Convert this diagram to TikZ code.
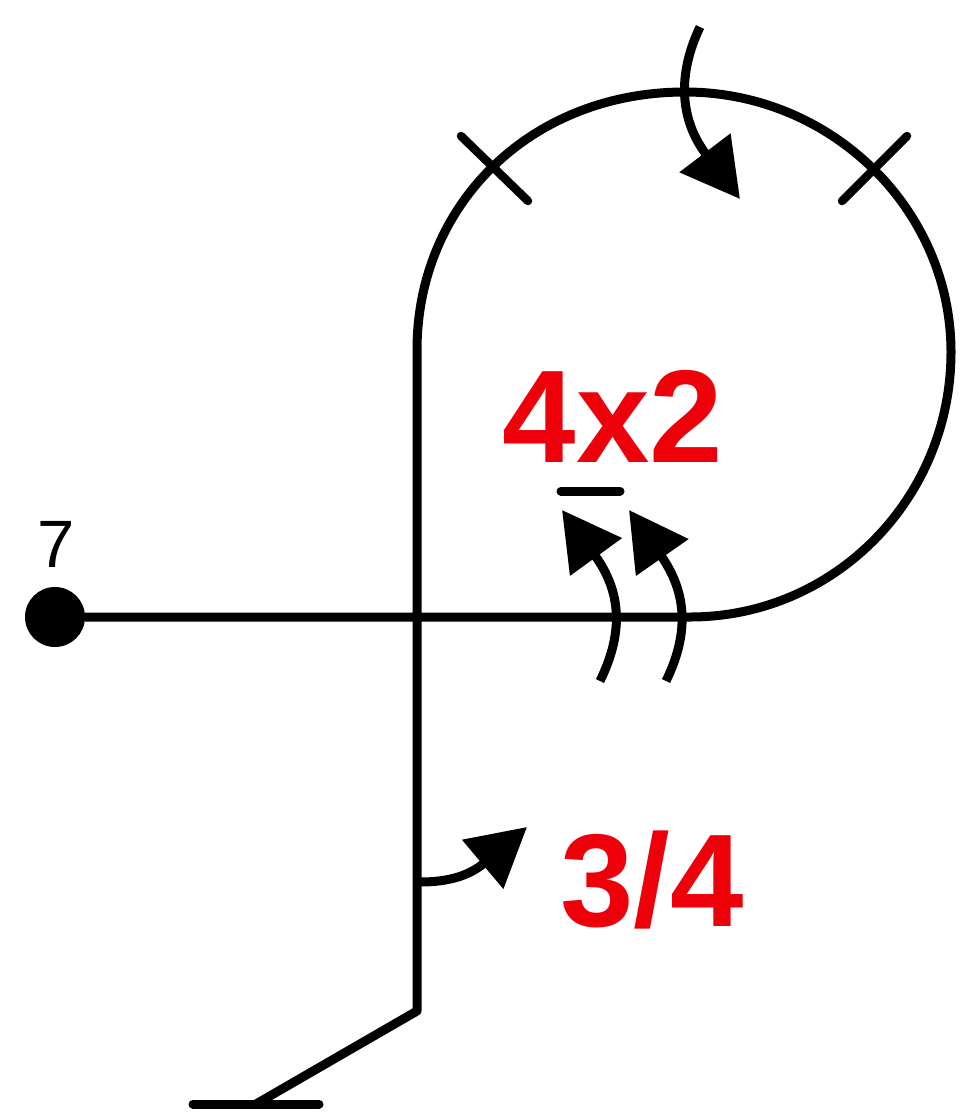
\documentclass[tikz,border=0pt]{standalone}
\usepackage{fontspec}
\setmainfont{Liberation Sans}
\usetikzlibrary{arrows.meta}
\definecolor{labelred}{RGB}{238,0,10}
\tikzset{
  x=1pt,y=-1pt,
  trace/.style={line width=9pt,black},
  tick/.style={line width=8.5pt,black,line cap=round},
  flow/.style={line width=9pt,black,-{Triangle[length=58pt,width=62pt]}},
  redlabel/.style={text=labelred,font=\bfseries\fontsize{132}{132}\selectfont,inner sep=0pt},
}
\begin{document}
\begin{tikzpicture}
\useasboundingbox (0,0) rectangle (964,1114);
\coordinate (bar) at (256,1104);
\coordinate (knee) at (417,1011);
\coordinate (up) at (417,350);
\coordinate (top) at (685,92);
\coordinate (right) at (951,352);
\coordinate (bot) at (690,617);
\node[circle,fill=black,minimum size=60pt,inner sep=0pt] (dot) at (55,617) {};
\node[inner sep=0pt,font=\fontsize{67}{67}\selectfont] (seven) at (56,544) {7};
\draw[line width=9pt,black,line cap=round] (193,1104) -- (319,1104);
\draw[trace,line join=round] (bar) -- (knee) -- (up) .. controls (417,205) and (530,92) .. (top) .. controls (832,92) and (951,210) .. (right) .. controls (951,498) and (835,617) .. (bot) -- (dot);
\draw[tick] (461,136) -- (528,201);
\draw[tick] (907,136) -- (842,201);
\draw[line width=9pt,black,line cap=round] (561,491) -- (620,491);
\coordinate (a1s) at (700,27); \coordinate (a1e) at (740,199);
\draw[flow] (a1s) .. controls (677,75) and (680,120) .. (a1e);
\coordinate (a2s) at (600,681); \coordinate (a2e) at (562,510);
\draw[flow] (a2s) .. controls (625,630) and (620,590) .. (a2e);
\coordinate (a3s) at (666,681); \coordinate (a3e) at (629,510);
\draw[flow] (a3s) .. controls (691,630) and (685,590) .. (a3e);
\coordinate (a4s) at (420,882); \coordinate (a4e) at (527,827);
\draw[flow] (a4s) .. controls (450,882) and (470,875) .. (a4e);
\node[redlabel] (l1) at (613,416) {4x2};
\node[redlabel] (l2) at (652,880) {3/4};
\end{tikzpicture}
\end{document}
